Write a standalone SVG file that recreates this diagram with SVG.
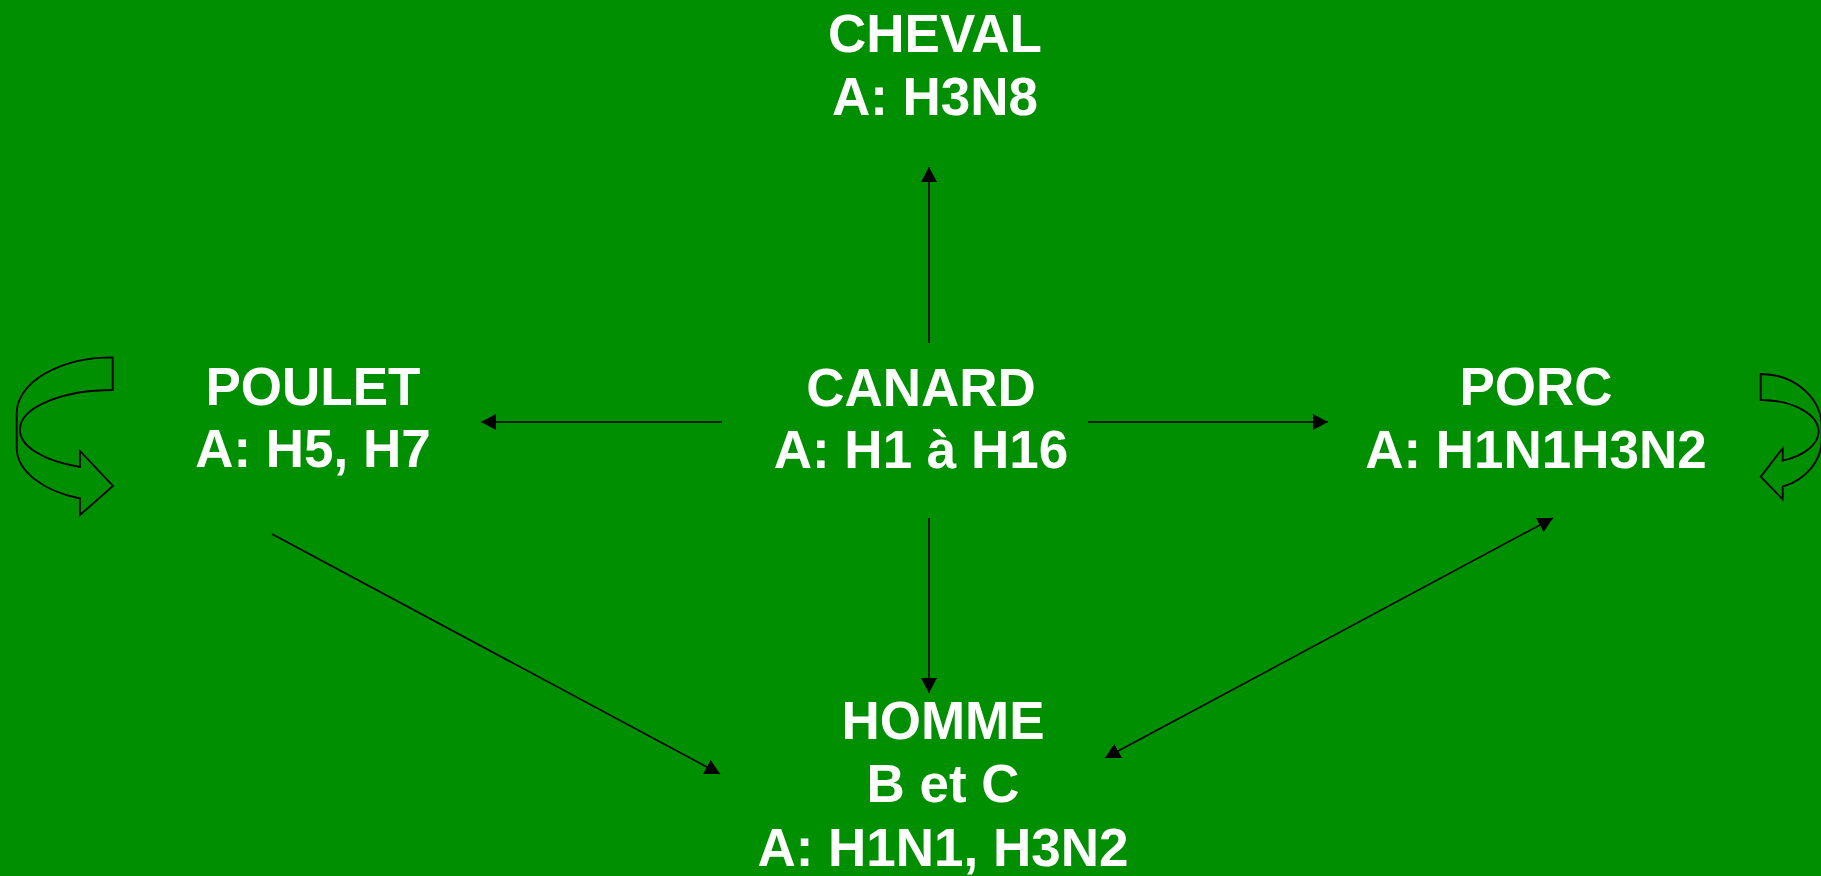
<svg xmlns="http://www.w3.org/2000/svg" width="1821" height="876" viewBox="0 0 1821 876">
<style>
.t{font-family:"Liberation Sans",Arial,sans-serif;font-weight:bold;font-size:53px;fill:#ffffff;text-anchor:middle}
.c{stroke:#000;stroke-width:1.6;fill:none}
.ca{stroke:#000;stroke-width:1.8;fill:#008f00;stroke-linejoin:miter}
</style>
<defs>
<marker id="ah" viewBox="0 0 15 16" refX="15" refY="8" markerWidth="15" markerHeight="16" markerUnits="userSpaceOnUse" orient="auto-start-reverse">
<path d="M0,0 L15,8 L0,16 Z" fill="#000"/>
</marker>
</defs>
<rect x="0" y="0" width="1821" height="876" fill="#008f00"/>
<g id="connectors">
<line class="c" x1="929" y1="343" x2="929" y2="167" marker-end="url(#ah)"/>
<line class="c" x1="722" y1="422" x2="481" y2="422" marker-end="url(#ah)"/>
<line class="c" x1="1088" y1="422" x2="1328" y2="422" marker-end="url(#ah)"/>
<line class="c" x1="929" y1="518" x2="929" y2="693" marker-end="url(#ah)"/>
<line class="c" x1="272" y1="534" x2="720" y2="774" marker-end="url(#ah)"/>
<line class="c" x1="1553" y1="518" x2="1105" y2="758" marker-start="url(#ah)" marker-end="url(#ah)"/>
</g>
<g id="loop-poulet">
<path class="ca" d="M112.7,357.3 A96,56 0 0 0 16.7,413 L16.7,448 A96,54 0 0 0 80,498.5 L80,515 L113,486 L80,451 L80,467 A92.7,39.5 0 0 1 20,429 A92.7,39.5 0 0 1 112.7,390 Z"/>
</g>
<g id="loop-porc">
<path class="ca" d="M1760.7,374 A61,53 0 0 1 1821.7,427 L1821.7,440 A61,50 0 0 1 1782.7,486.7 L1782.7,499.3 L1760.7,476.7 L1782.7,448.3 L1782.7,460.7 A58,32 0 0 0 1818.7,432 A58,32 0 0 0 1760.7,400 Z"/>
</g>
<g id="cheval">
<text class="t" x="935" y="52">CHEVAL</text>
<text class="t" x="935" y="115">A: H3N8</text>
</g>
<g id="poulet">
<text class="t" x="313" y="405">POULET</text>
<text class="t" x="313" y="467">A: H5, H7</text>
</g>
<g id="canard">
<text class="t" x="921" y="406">CANARD</text>
<text class="t" x="921" y="468">A: H1 à H16</text>
</g>
<g id="porc">
<text class="t" x="1536" y="405">PORC</text>
<text class="t" x="1536" y="468">A: H1N1H3N2</text>
</g>
<g id="homme">
<text class="t" x="943" y="739">HOMME</text>
<text class="t" x="943" y="802">B et C</text>
<text class="t" x="943" y="866">A: H1N1, H3N2</text>
</g>
</svg>
